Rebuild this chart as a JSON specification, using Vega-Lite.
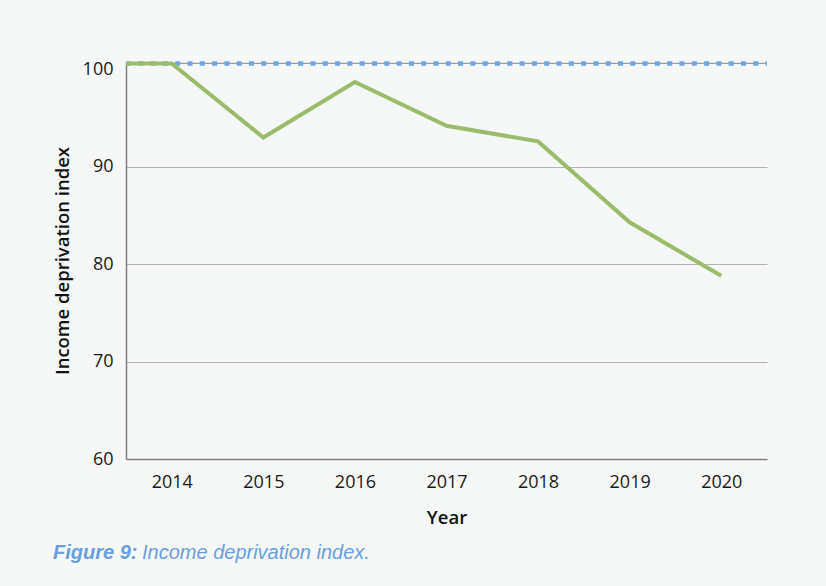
{
  "$schema": "https://vega.github.io/schema/vega-lite/v6.json",
  "width": 641,
  "height": 397,
  "autosize": {"type": "none"},
  "padding": {"left": 126, "top": 62, "right": 59, "bottom": 127},
  "background": "#f6f7f7",
  "config": {
    "view": {"stroke": null},
    "axis": {
      "labelFont": "Open Sans",
      "labelFontSize": 18,
      "labelColor": "#1a1a1a",
      "titleFont": "Open Sans",
      "titleFontSize": 18.5,
      "titleFontWeight": 600,
      "titleColor": "#111111",
      "ticks": false,
      "domainColor": "#7f7f7f",
      "domainWidth": 1.5
    }
  },
  "datasets": {
    "index": [
      {"year": 2013.5, "value": 100.6},
      {"year": 2014, "value": 100.6},
      {"year": 2015, "value": 93.0},
      {"year": 2016, "value": 98.7},
      {"year": 2017, "value": 94.2},
      {"year": 2018, "value": 92.6},
      {"year": 2019, "value": 84.3},
      {"year": 2020, "value": 78.8}
    ],
    "baseline": [
      {"year": 2013.5, "value": 100.6},
      {"year": 2020.5, "value": 100.6}
    ]
  },
  "layer": [
    {
      "data": {"name": "baseline"},
      "mark": {"type": "line", "color": "#9a9a9a", "strokeWidth": 1.2},
      "encoding": {
        "x": {
          "field": "year",
          "type": "quantitative",
          "scale": {"domain": [2013.5, 2020.5], "nice": false, "zero": false},
          "axis": {
            "values": [2014, 2015, 2016, 2017, 2018, 2019, 2020],
            "format": "d",
            "grid": false,
            "labelPadding": 14,
            "title": "Year",
            "titlePadding": 17
          }
        },
        "y": {
          "field": "value",
          "type": "quantitative",
          "scale": {"domain": [60, 100.75], "nice": false, "zero": false},
          "axis": {
            "values": [60, 70, 80, 90, 100],
            "grid": true,
            "gridColor": {"condition": {"test": "datum.value == 100 || datum.value == 60", "value": "transparent"}, "value": "#b5b5b5"},
            "gridWidth": 1.2,
            "labelPadding": 13,
            "title": "Income deprivation index",
            "titlePadding": 10
          }
        }
      }
    },
    {
      "data": {"name": "baseline"},
      "mark": {"type": "line", "color": "#6fa6e2", "strokeWidth": 4.5, "strokeDash": [5, 7.3], "strokeCap": "butt"},
      "encoding": {
        "x": {"field": "year", "type": "quantitative"},
        "y": {"field": "value", "type": "quantitative"}
      }
    },
    {
      "data": {"name": "index"},
      "mark": {"type": "line", "strokeWidth": 4, "strokeJoin": "miter"},
      "encoding": {
        "x": {"field": "year", "type": "quantitative"},
        "y": {"field": "value", "type": "quantitative"},
        "color": {
          "datum": "Income deprivation index.",
          "scale": {"range": ["#9bbc6c"]},
          "legend": {
            "orient": "none",
            "legendX": -73,
            "legendY": 481,
            "title": "Figure 9:",
            "titleOrient": "left",
            "titleFont": "Liberation Sans",
            "titleFontSize": 20,
            "titleFontWeight": "bold",
            "titleFontStyle": "italic",
            "titleColor": "#6a9fdc",
            "titlePadding": -16,
            "titleLimit": 0,
            "labelFont": "Liberation Sans",
            "labelFontSize": 20,
            "labelFontStyle": "italic",
            "labelColor": "#6a9fdc",
            "labelLimit": 0,
            "labelOffset": 0,
            "symbolSize": 0,
            "symbolOpacity": 0,
            "symbolStrokeWidth": 0,
            "padding": 0
          }
        }
      }
    }
  ]
}
